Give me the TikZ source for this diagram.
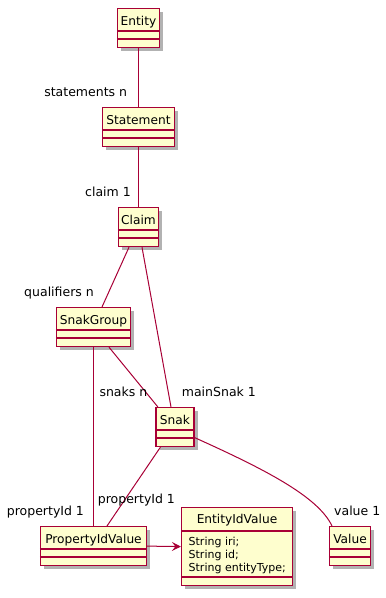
\documentclass[tikz,border=0pt]{standalone}
\usepackage{fontspec}
\setmainfont{DejaVu Sans}
\usetikzlibrary{shadows,arrows.meta}
\definecolor{umlborder}{HTML}{A80036}
\definecolor{umlfill}{HTML}{FEFECE}
\tikzset{
  cls/.style={draw=umlborder, fill=umlfill, line width=1.2pt, inner sep=0pt,
    drop shadow={shadow xshift=3.5pt, shadow yshift=-3.5pt, opacity=0.3, fill=black}},
  sep/.style={draw=umlborder, line width=1.2pt},
  ctitle/.style={inner sep=0pt, anchor=base, font=\fontsize{12.2}{14}\selectfont},
  attr/.style={inner sep=0pt, anchor=base west, font=\fontsize{11}{13}\selectfont},
  lbl/.style={inner sep=0pt, font=\fontsize{12.5}{14}\selectfont},
  assoc/.style={draw=umlborder, line width=1pt},
}
\newcommand\umlclass[5]{%
  \node[cls, minimum width=#4pt, minimum height=39pt, anchor=north] (#1) at (#2,#3) {};
  \node[ctitle] (#1-t) at ([yshift=-17.5pt]#1.north) {#5};
  \draw[sep] ([yshift=-23pt]#1.north west) -- ([yshift=-23pt]#1.north east);
  \draw[sep] ([yshift=-31pt]#1.north west) -- ([yshift=-31pt]#1.north east);
}
\begin{document}
\begin{tikzpicture}[x=1pt,y=-1pt]
\useasboundingbox (0,0) rectangle (386,598);
% classes
\umlclass{entity}{138.5}{8}{42}{Entity}
\umlclass{statement}{138.5}{107}{72}{Statement}
\umlclass{claim}{138.5}{207}{40}{Claim}
\umlclass{snakgroup}{93.5}{307}{74}{SnakGroup}
\umlclass{snak}{175}{407}{38}{Snak}
\umlclass{propval}{93.5}{526}{106}{PropertyIdValue}
\umlclass{value}{350}{526}{41}{Value}
% EntityIdValue with attributes
\node[cls, minimum width=111pt, minimum height=78pt, anchor=north] (entval) at (237,507) {};
\node[ctitle] (entval-t) at ([yshift=-16pt]entval.north) {EntityIdValue};
\draw[sep] ([yshift=-24pt]entval.north west) -- ([yshift=-24pt]entval.north east);
\draw[sep] ([yshift=-70pt]entval.north west) -- ([yshift=-70pt]entval.north east);
\node[attr] (a1) at (188.5,545.5) {String iri;};
\node[attr] (a2) at (188.5,558.3) {String id;};
\node[attr] (a3) at (188.5,571) {String entityType;};
% connectors
\draw[assoc] (entity.south) -- (statement.north);
\draw[assoc] (statement.south) -- (claim.north);
\draw[assoc] ([xshift=-9.5pt]claim.south) -- ([xshift=8.5pt]snakgroup.north);
\draw[assoc] ([xshift=3.5pt]claim.south) -- ([xshift=-4pt]snak.north);
\draw[assoc] (snakgroup.south) -- (propval.north);
\draw[assoc] ([xshift=15.5pt]snakgroup.south) -- ([xshift=2.5pt]snak.north west);
\draw[assoc] ([xshift=5pt]snak.south west) -- ([xshift=13.5pt]propval.north);
\draw[assoc] ([yshift=-10.5pt]snak.east) .. controls (262,468) and (318,496) .. ([xshift=-18pt]value.north);
\draw[assoc, -{Stealth[length=9pt,width=9pt,inset=3.5pt]}] (propval.east) -- (entval.west);
% labels
\node[lbl, anchor=base east] (l1) at (127.3,96.7) {statements n};
\node[lbl, anchor=base east] (l2) at (131,196.7) {claim 1};
\node[lbl, anchor=base east] (l3) at (94,296) {qualifiers n};
\node[lbl, anchor=base west] (l4) at (99.3,396.7) {snaks n};
\node[lbl, anchor=base west] (l5) at (181.7,396.7) {mainSnak 1};
\node[lbl, anchor=base west] (l6) at (6.7,515) {propertyId 1};
\node[lbl, anchor=base west] (l7) at (97.7,503.3) {propertyId 1};
\node[lbl, anchor=base west] (l8) at (334,515) {value 1};
\end{tikzpicture}
\end{document}
